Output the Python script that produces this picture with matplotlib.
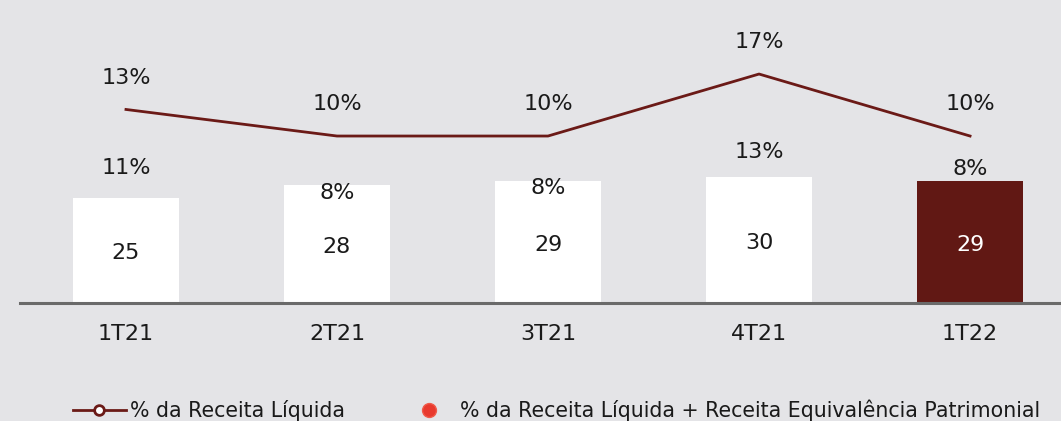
import matplotlib
matplotlib.use('Agg')
from matplotlib import pyplot as plt

quarters     = ['1T21', '2T21', '3T21', '4T21', '1T22']
values       = [25, 28, 29, 30, 29]
pct_net      = [13, 10, 10, 17, 10]
pct_net_eq   = [11, 8, 8, 13, 8]

# label heights for the second series (bar-axis units), as placed in the source
pct_net_eq_y = [32.1, 26.2, 27.4, 36.0, 31.9]

bg      = '#e4e4e7'
dark    = '#611814'
line_c  = '#6b1a17'
txt     = '#1a1a1a'

plt.rcParams.update({'font.family': ['DejaVu Sans'], 'font.size': 16})

fig = plt.figure(figsize=(10.61, 4.21), dpi=100)
fig.patch.set_facecolor(bg)

ax = fig.add_axes([0, (421 - 303) / 421, 1, 303 / 421])
ax.set_facecolor(bg)
x = list(range(len(quarters)))
colors = ['white'] * (len(quarters) - 1) + [dark]
ax.bar(x, values, width=0.5, color=colors, zorder=2)
ax.set_xlim(-0.597, 4.431)
ax.set_ylim(0, 303 / 4.2)
for s in ax.spines.values():
	s.set_visible(False)
ax.set_xticks([])
ax.set_yticks([])
ax.axhline(0, xmin=20 / 1061, xmax=1, color='#6a6a6a', lw=2.2, zorder=3, clip_on=False)

for i, v in enumerate(values):
	ax.text(i, v / 2 - 0.7, str(v), ha='center', va='center', fontsize=16,
			color='white' if i == len(values) - 1 else txt, zorder=4)
	ax.text(i, pct_net_eq_y[i], f'{pct_net_eq[i]}%', ha='center', va='center',
			fontsize=16, color=txt, zorder=4)
	ax.text(i, -7.3, quarters[i], ha='center', va='center', fontsize=16,
			color=txt, clip_on=False)

ax2 = ax.twinx()
ax2.set_ylim(-8.855, 25.36)
ax2.plot(x, pct_net, color=line_c, lw=2.0, zorder=3)
for s in ax2.spines.values():
	s.set_visible(False)
ax2.set_yticks([])
for i, p in enumerate(pct_net):
	ax2.annotate(f'{p}%', (i, p), xytext=(0, 22.8), textcoords='offset points',
				 ha='center', va='center', fontsize=16, color=txt)

# legend
h1, = ax.plot([], [], color=line_c, lw=2, marker='o', markersize=7,
			  markerfacecolor='white', markeredgecolor=line_c, markeredgewidth=2)
h2, = ax.plot([], [], ls='none', marker='o', markersize=10,
			  markerfacecolor='#e8392e', markeredgecolor='#f05a4a')
lgd = fig.legend([h1, h2], ['% da Receita Líquida',
							'% da Receita Líquida + Receita Equivalência Patrimonial'],
				 loc='center', bbox_to_anchor=(0.5245, 11 / 421), ncol=2, frameon=False,
				 prop={'size': 14.8}, handlelength=2.6,
				 handletextpad=0.2, columnspacing=2.8)
for t in lgd.get_texts():
	t.set_color(txt)

fig.savefig('out.png', dpi=100, facecolor=bg)
